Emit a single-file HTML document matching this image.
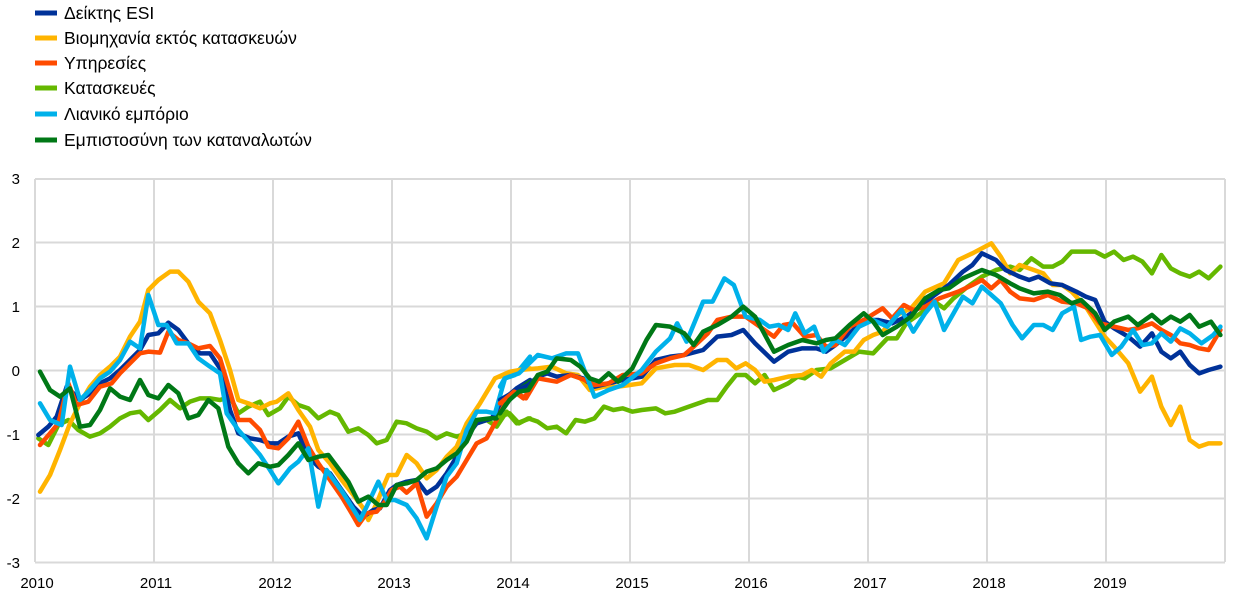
<!DOCTYPE html>
<html><head><meta charset="utf-8"><style>
body{margin:0;background:#fff;width:1240px;height:602px;overflow:hidden;font-family:"Liberation Sans",sans-serif}
</style></head><body>
<svg width="1240" height="602" xmlns="http://www.w3.org/2000/svg" font-family="Liberation Sans, sans-serif">
<g stroke="#d9d9d9" stroke-width="2" fill="none">
<line x1="35" y1="179" x2="1225" y2="179"/><line x1="35" y1="242.5" x2="1225" y2="242.5"/><line x1="35" y1="306.5" x2="1225" y2="306.5"/><line x1="35" y1="370.5" x2="1225" y2="370.5"/><line x1="35" y1="434.5" x2="1225" y2="434.5"/><line x1="35" y1="498.5" x2="1225" y2="498.5"/><line x1="35" y1="562.5" x2="1225" y2="562.5"/>
<line x1="35" y1="179" x2="35" y2="562"/><line x1="154" y1="179" x2="154" y2="562"/><line x1="273" y1="179" x2="273" y2="562"/><line x1="392" y1="179" x2="392" y2="562"/><line x1="511" y1="179" x2="511" y2="562"/><line x1="630" y1="179" x2="630" y2="562"/><line x1="749" y1="179" x2="749" y2="562"/><line x1="868" y1="179" x2="868" y2="562"/><line x1="987" y1="179" x2="987" y2="562"/><line x1="1106" y1="179" x2="1106" y2="562"/><line x1="1225" y1="179" x2="1225" y2="562"/>
</g>
<g font-size="15" fill="#000" text-anchor="end">
<text x="20" y="184">3</text><text x="20" y="248">2</text><text x="20" y="312">1</text><text x="20" y="376">0</text><text x="20" y="440">-1</text><text x="20" y="504">-2</text><text x="20" y="568">-3</text>
</g>
<g font-size="15" fill="#000" text-anchor="middle">
<text x="37" y="588">2010</text><text x="156" y="588">2011</text><text x="275" y="588">2012</text><text x="394" y="588">2013</text><text x="513" y="588">2014</text><text x="632" y="588">2015</text><text x="751" y="588">2016</text><text x="870" y="588">2017</text><text x="989" y="588">2018</text><text x="1110" y="588">2019</text>
</g>
<g fill="none" stroke-width="4.5" stroke-linejoin="round" stroke-linecap="round">
<g transform="translate(30,170) scale(0.33333)">
<polyline vector-effect="non-scaling-stroke" stroke="#65B800" points="25,805 55,825 85,765 115,750 145,780 180,800 210,790 240,770 270,745 300,730 330,725 355,750 390,720 420,690 450,715 480,695 510,685 540,685 570,690 600,680 625,730 655,710 690,695 715,735 750,715 775,680 805,705 835,715 865,745 900,725 925,735 955,785 985,775 1015,795 1040,820 1070,810 1100,755 1130,760 1160,775 1190,785 1220,805 1250,790 1280,800 1310,790 1340,760 1370,750 1400,770 1430,725 1460,760 1500,745"/>
<polyline vector-effect="non-scaling-stroke" stroke="#FFB400" points="30,965 60,915 90,840 120,760 150,700 180,650 210,615 240,590 270,560 300,500 330,455 355,360 385,330 420,305 445,305 475,335 505,395 540,430 570,510 600,600 625,690 655,700 690,715 720,700 740,695 775,670 805,720 840,770 865,840 900,880 935,930 970,975 1000,1015 1015,1050 1040,1000 1060,950 1075,915 1100,915 1130,855 1160,880 1190,925 1220,900 1250,860 1280,830 1310,760 1350,700 1395,625 1440,605 1470,600 1500,595"/>
<polyline vector-effect="non-scaling-stroke" stroke="#003299" points="25,795 55,770 80,740 110,650 150,690 180,670 210,640 240,625 270,600 300,570 330,540 355,495 385,490 415,458 445,480 475,520 510,550 540,550 570,595 600,720 625,790 660,805 690,810 720,820 745,820 775,800 805,790 835,860 865,890 900,910 935,960 970,1010 1000,1040 1030,1020 1050,1015 1080,960 1100,945 1130,935 1160,930 1190,970 1220,950 1250,910 1280,860 1310,800 1340,760 1385,745 1420,690 1460,655 1500,630"/>
<polyline vector-effect="non-scaling-stroke" stroke="#FF4B00" points="30,825 60,790 85,760 115,640 140,705 175,695 210,650 245,640 270,610 300,580 330,550 355,545 390,548 415,485 445,510 475,520 505,535 540,528 570,565 600,665 625,750 660,750 690,780 715,830 745,835 775,805 805,755 835,830 865,880 900,930 935,980 965,1030 985,1065 1010,1030 1040,1025 1065,995 1085,960 1110,950 1130,968 1160,940 1190,1040 1220,1000 1250,950 1280,920 1310,870 1340,820 1370,805 1395,760 1430,690 1460,670 1480,685 1500,660"/>
<polyline vector-effect="non-scaling-stroke" stroke="#00B1EA" points="30,700 60,750 95,765 120,590 150,690 180,660 210,625 240,605 270,570 300,515 330,535 355,375 385,465 410,465 440,520 475,520 505,565 540,590 570,610 590,730 625,780 660,820 690,855 720,900 745,940 780,895 805,875 835,835 865,1010 890,900 915,935 940,970 965,1010 990,1050 1010,1010 1045,935 1070,990 1095,990 1130,1005 1160,1045 1190,1105 1220,1010 1250,920 1280,880 1310,780 1340,725 1370,725 1395,730 1425,625 1455,615 1500,560"/>
<polyline vector-effect="non-scaling-stroke" stroke="#007816" points="30,605 60,660 90,680 120,655 150,770 180,765 210,720 240,655 270,680 300,690 330,630 355,675 385,685 415,645 445,670 475,745 505,735 535,690 565,715 595,830 625,880 655,910 685,880 720,890 745,885 775,855 805,820 835,870 865,860 895,855 925,895 955,935 985,995 1015,980 1045,1005 1070,1005 1100,945 1130,940 1160,930 1190,905 1220,895 1250,870 1280,850 1310,815 1340,750 1380,745 1400,745 1430,700 1460,665 1500,635"/>
</g>
<g transform="translate(500,170) scale(0.4724,0.33333)">
<polyline vector-effect="non-scaling-stroke" stroke="#65B800" points="0,740 20,730 40,760 60,745 80,755 100,775 120,770 140,790 160,750 180,755 200,745 220,710 240,720 260,715 280,725 300,720 330,715 350,730 370,725 400,710 440,690 460,690 480,650 500,615 520,615 540,640 560,615 580,660 610,640 630,620 645,625 670,600 700,595 730,570 760,545 790,550 820,505 840,505 860,460 880,440 900,420 920,395 940,415 960,385 990,350 1020,320 1050,300 1080,290 1100,300 1125,265 1150,290 1170,290 1190,275 1210,245 1240,245 1260,245 1280,260 1300,245 1320,270 1340,260 1360,275 1380,310 1400,255 1420,295 1440,310 1460,320 1480,305 1500,325 1525,290"/>
<polyline vector-effect="non-scaling-stroke" stroke="#FFB400" points="0,620 40,600 80,595 110,590 140,610 165,615 190,660 220,650 250,650 275,645 300,640 330,595 370,585 400,585 430,600 460,570 480,570 500,595 520,580 540,600 560,635 580,630 610,620 640,615 660,600 680,620 700,580 730,545 750,545 770,510 790,495 810,485 840,435 870,415 900,365 940,340 970,270 1000,250 1040,220 1060,260 1080,310 1100,285 1130,300 1150,310 1170,345 1190,345 1210,365 1240,410 1260,455 1280,500 1300,530 1330,580 1355,665 1380,620 1400,710 1420,765 1440,710 1460,810 1480,830 1500,820 1525,820"/>
<polyline vector-effect="non-scaling-stroke" stroke="#003299" points="0,690 30,665 60,645 80,620 100,610 120,620 150,615 175,625 200,650 230,640 260,630 300,620 330,570 360,560 390,555 430,540 460,500 490,495 515,480 540,520 580,575 610,545 640,535 670,535 690,545 710,525 740,490 770,450 800,450 830,460 860,440 890,410 920,375 950,345 980,305 1000,285 1020,250 1050,270 1070,300 1100,320 1120,330 1140,320 1165,340 1190,345 1220,365 1240,380 1260,390 1280,455 1300,475 1330,500 1355,530 1380,490 1400,545 1420,565 1440,545 1460,585 1480,610 1500,600 1525,590"/>
<polyline vector-effect="non-scaling-stroke" stroke="#FF4B00" points="0,700 30,665 55,685 80,625 120,635 150,615 180,630 200,645 230,640 260,615 300,610 330,580 360,565 390,555 410,530 440,490 460,450 490,440 520,440 550,470 580,500 600,465 620,460 645,500 670,495 690,530 710,525 740,470 770,450 810,415 830,445 855,405 875,420 900,410 930,385 950,375 970,365 1000,345 1020,330 1040,355 1060,330 1080,365 1100,385 1130,390 1160,375 1190,395 1220,400 1245,415 1270,460 1300,470 1330,480 1350,475 1380,460 1400,480 1420,495 1440,520 1460,525 1480,535 1500,540 1525,480"/>
<polyline vector-effect="non-scaling-stroke" stroke="#00B1EA" points="0,650 10,625 40,610 80,555 110,565 140,550 165,550 200,680 230,660 260,645 300,600 330,545 360,505 375,460 395,515 430,395 450,395 475,325 495,345 520,440 550,450 570,470 590,465 610,480 625,430 645,490 665,470 685,545 710,510 730,525 760,470 790,450 820,470 850,420 875,485 900,430 920,395 940,480 960,430 980,380 1000,400 1020,350 1040,375 1060,400 1085,465 1105,505 1130,465 1150,465 1170,480 1190,430 1215,410 1230,510 1250,500 1270,495 1295,555 1315,530 1340,480 1360,525 1380,520 1400,490 1420,515 1440,475 1460,490 1485,520 1510,495 1525,470"/>
<polyline vector-effect="non-scaling-stroke" stroke="#007816" points="0,730 20,690 40,665 60,660 80,615 100,605 120,565 150,570 170,590 190,625 210,635 230,610 250,635 280,595 310,510 330,465 360,470 390,490 410,525 430,485 460,465 490,440 515,410 540,440 580,545 610,525 640,510 670,520 690,510 710,505 740,465 770,430 790,455 810,495 840,470 870,440 900,385 930,360 950,355 980,325 1020,300 1050,315 1080,340 1100,355 1130,370 1160,365 1185,375 1210,400 1230,390 1260,430 1280,480 1300,455 1330,440 1350,465 1380,435 1400,460 1420,440 1440,455 1460,435 1480,470 1505,455 1525,495"/>
</g>
</g>
<g stroke-width="5">
<line x1="35" y1="13" x2="57" y2="13" stroke="#003299"/>
<line x1="35" y1="38" x2="57" y2="38" stroke="#FFB400"/>
<line x1="35" y1="63" x2="57" y2="63" stroke="#FF4B00"/>
<line x1="35" y1="88" x2="57" y2="88" stroke="#65B800"/>
<line x1="35" y1="114" x2="57" y2="114" stroke="#00B1EA"/>
<line x1="35" y1="140" x2="57" y2="140" stroke="#007816"/>
</g>
<g font-size="17.5" fill="#000">
<text x="64" y="19">Δείκτης ESI</text>
<text x="64" y="44">Βιομηχανία εκτός κατασκευών</text>
<text x="64" y="69">Υπηρεσίες</text>
<text x="64" y="94">Κατασκευές</text>
<text x="64" y="120">Λιανικό εμπόριο</text>
<text x="64" y="146">Εμπιστοσύνη των καταναλωτών</text>
</g>
</svg>
</body></html>
